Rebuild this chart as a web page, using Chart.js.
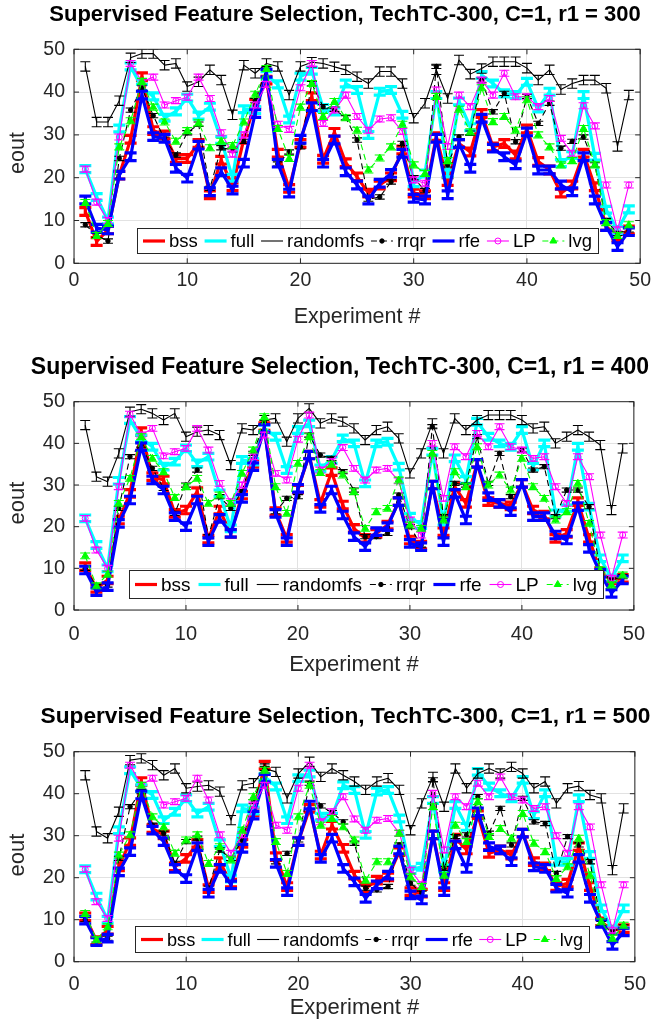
<!DOCTYPE html>
<html>
<head>
<meta charset="utf-8">
<script src="https://cdn.jsdelivr.net/npm/chart.js@4.4.1/dist/chart.umd.min.js"></script>
<style>
  body { margin: 0; background: #fff; }
  #wrap { position: relative; width: 657px; height: 1025px; overflow: hidden; }
  canvas { position: absolute; left: 0; }
</style>
</head>
<body>
<div id="wrap">
  <canvas id="c300" width="657" height="345" style="top:0px"></canvas>
  <canvas id="c400" width="657" height="345" style="top:345px"></canvas>
  <canvas id="c500" width="657" height="335" style="top:690px"></canvas>
</div>
<script>
// Experiment numbers on the x axis
const EXPERIMENTS = [1,2,3,4,5,6,7,8,9,10,11,12,13,14,15,16,17,18,19,20,21,22,23,24,25,
  26,27,28,29,30,31,32,33,34,35,36,37,38,39,40,41,42,43,44,45,46,47,48,49];
const X_TICKS = [0, 10, 20, 30, 40, 50];
const Y_TICKS = [0, 10, 20, 30, 40, 50];
const SERIES_NAMES = ['bss', 'full', 'randomfs', 'rrqr', 'rfe', 'LP', 'lvg'];
const R1_VALUES = [300, 400, 500];

// r1 = 300
const bss300  = [12.1,5.1,7.8,20.6,29,43.6,31,30,24.5,24.5,28,16,24.1,17.9,29,37.4,42.8,25.7,17.5,28,38.9,24.3,30.6,23.5,20.2,16.4,18.3,20.2,26.5,16.4,16,29.6,19.1,28,26,35,27.2,28,25.3,31.4,23.8,21.8,16.4,18.3,25.7,17.9,8.6,6.2,7.8];
const full300 = [22,15.5,10,31.5,46,41,39,34,35.5,38.7,34.5,36.6,28.8,20,36,35.8,44,41.8,33.6,43.6,45,36.3,35.5,42,40.5,30,40.1,40.5,34.7,18.7,21,39.3,21,37.8,31.8,44,42,39.7,39.3,42.4,36.2,40.1,23.4,25.3,39.3,24.9,12.5,7.8,12.6];
const rand300 = [46,33,33,38,48,49,49,46.3,46.7,41.3,42.4,45.2,42.8,34.7,46.3,44.4,46.7,46,39.3,46,47,46.7,45.9,45.2,43.6,42,44.8,44.8,42,33.9,37.4,45.2,38.5,47.5,44.2,45.5,47.1,47.1,47.1,45.6,42.8,45.2,40.6,42,42.8,42.8,40.9,27.3,39.3];
const rrqr300 = [9,6.5,5.2,24.5,35.8,41,34.5,29,25.3,30.5,32.5,17.5,27,26.5,28.5,38,45.5,23.2,26,27.2,42,36.6,36,34,28.8,15,15.5,19,28,20,17,46,23,29.5,30.4,42.8,35.4,39.7,28.4,39,32.7,37.4,26.9,28.5,29.5,23,10,7,7.8];
const rfe300  = [14.8,8.2,7.8,20.6,24.9,39.3,29.6,29.2,22.2,19.9,27.6,16.7,21.4,17.1,23.4,35,44.4,23.4,16.4,29,36.6,23.4,28.8,21.4,18.3,14.8,18.7,21,25.7,15.2,14.8,29.2,16,28,22.2,33.9,26.9,24.9,23,30.7,21.8,21.8,18.3,16.7,24.9,14.8,8.6,3.9,7.4];
const lp300   = [22,14.3,10,29.5,46.7,42.4,43.5,37,38,38.8,43.5,38.5,30.5,25.5,30,37,41.8,32.5,31.3,41,46.7,32.7,35.8,39.3,34.3,31.1,33.7,34,30.8,19.5,18.7,40.5,27.3,39.3,36.6,42.8,39.3,44.4,38.9,38.9,36.6,38.5,29.2,25.7,36.8,32.1,18.3,7.8,18.3];
const lvg300  = [14.2,6.5,9.3,27.2,33.3,42.5,36.5,33,28.5,31,32.8,27,28.5,27.5,33,39.5,45.5,31.5,24.5,36.5,42,34.3,37.8,34,31.1,21.8,24.6,27.2,32.5,23,21,39,24,36,30.7,41,33.1,34.3,31.1,38.2,30,27.2,23,24,31.5,23,9.5,6.5,9];

// r1 = 400
const bss400  = [10.4,5.2,7.2,21.6,28,42.8,32,31.2,23.2,24,28.4,17,24,18.4,27.6,35.2,44,23.6,17.2,29,37.2,25.6,33.2,25.2,19.6,17.2,18.4,20.4,26,16.8,15.6,30,18.8,29.6,25.6,35.2,26,25.6,25,30.4,24,22.8,17.2,18.4,26,17.2,9.2,7.2,7.6];
const full400 = [22,15.6,10,31,45.6,41.2,39.2,34.4,35.6,38.8,35.2,36.8,28,19.6,36,35.6,43.6,41.6,33.6,43.2,44.8,34,36,41.2,40,30.4,40,40.4,34.4,22.4,20.4,38,21.2,36.4,31.2,45.2,41.6,40,39.2,43.2,34.4,40,23.2,24.4,39.2,24.8,12.4,7.6,12.4];
const rand400 = [44.4,32,30.8,37.6,47.6,48.2,47.2,45.6,47.2,41.6,42.8,43.2,42,34.8,43.6,43.2,45.6,46,40.4,46,48.4,44.8,46,45.2,43.6,40.8,43.2,44,41.2,32.8,37.6,44.8,37.6,46,43.2,45.6,46.8,46.8,46.8,45.6,43.6,44,40,41.6,43.2,41.6,39.6,24,38.8];
const rrqr400 = [10,5.6,6,24.4,36.8,39.6,34,29.2,23.2,30,33.6,17.6,27.2,24.4,28.4,37.6,45,23.6,26.8,27.2,42,37.2,36.4,33.2,28.8,17.6,17.6,18.4,27.6,20,15.6,44,22.4,30.4,30,41.6,30.4,37.6,27.2,38.4,33.6,34.4,22.4,28.8,28.8,24.8,9.6,7.2,8];
const rfe400  = [9.6,4.4,5.6,20.8,26.4,39.2,31.2,28.8,22.4,20,26.4,16.4,22,18.4,26.8,34.4,43.6,23.2,16.4,29.2,37.2,24.4,28.8,22.8,17.6,15.2,18.8,20,26,16,15.2,30,16.4,28,21.6,35.2,27.2,25.6,23.6,30.4,22.4,22.4,18,16.8,24.8,14.8,8.8,4,7.2];
const lp400   = [22,14.4,10,29.6,47,42,43.6,37,38,38.8,43.6,38.4,30.4,26,30,36.8,42,32.8,31.2,41,46.8,33.6,35.6,39,34,31.2,33.6,34,31,21.6,18,40,26.8,39.2,36.8,42.4,39.2,44,39.2,38.4,36.4,36.8,29.6,25.6,36.8,32,18,7.6,18];
const lvg400  = [13,5.8,8.6,25.6,31.6,41.6,36.4,33.2,27,29.6,31.6,25.6,27.6,25.6,32.8,38.4,46.4,29.6,23.2,35.2,41.6,33,35,32.4,28.4,19.6,23.6,24.4,31.2,20.4,19.6,37.6,21.6,33.2,29.6,39.2,30,32.4,28.8,36.4,29.6,26.8,21.6,23.6,30.4,20.8,9.6,6,8.4];

// r1 = 500
const bss500  = [10.7,5,7.5,22.6,28.6,42.9,31.7,30.2,22.6,24.6,28.2,17.4,23.8,18.7,28.2,35.7,46.8,25,17.9,28.6,36.5,25.4,32.5,27,20.6,17.5,19.4,20.2,26.2,16.7,16.3,30.2,17.9,29.4,26.6,35,25.8,26.6,25.4,30.6,23.8,22.6,17.9,18.7,27.4,17.9,9.5,7.5,7.9];
const full500 = [22,15.5,10,31.3,45.6,41.3,39.7,33.7,35.7,38.9,35.3,36.9,28.2,19.8,36.5,36,44,41.7,33.7,43.7,44.8,34.5,34.5,42,40.9,30.2,40.5,40.9,34.1,21.8,22.6,38.5,22.2,37.3,32.1,45.2,41.7,40.1,38.9,43.3,34.9,40.1,23.8,23.8,38.9,25.4,12.7,7.5,12.7];
const rand500 = [44.4,31,29.4,35.7,48,48.4,46.8,44.4,46,41.3,41.7,42,40.5,33.7,42,42.5,46,45.2,38.9,44.8,47.6,44,46,44.4,42.9,40.9,42.9,43.7,40.9,31.3,37.7,44,36.9,46,41.3,44.8,46,44.8,46.4,44.8,41.3,42.9,37.7,41.3,41.8,39.7,38.9,21.8,36.5];
const rrqr500 = [10,5.2,5.6,24.6,36.9,40.5,32.5,30.6,23.4,28.6,29.4,17.5,26.6,24.6,29,38.1,46,23.8,25.8,29,42.5,37.1,35.5,33.3,28.2,17.5,17.1,17.9,27.8,18.7,16.3,43.3,22.2,29.8,30.2,39.3,30.6,36.5,27.8,38.9,33.3,32.9,21,29.8,27.8,23.8,9.1,7.1,8.3];
const rfe500  = [9.9,4.8,5.6,21.4,26.2,39.7,31.3,28.6,22.2,19.8,27.4,16.3,22.2,18.3,27,34.9,43.7,23.4,16.7,28.6,37.3,24.6,29.4,22.2,19,15.1,18.3,20.6,26.6,15.9,14.7,30.2,16.7,27.8,22.2,35.7,27.4,26.6,23.8,30.6,22.6,22.2,17.5,16.3,24.6,15.1,9.1,3.9,7.1];
const lp500   = [22,14.3,10.3,29.4,46.8,42,43.7,37.3,38.1,38.9,43.7,38.5,30.2,25.8,30.2,37.3,42,32.5,31.3,41.3,46.8,33.3,35.7,39.3,34,31.3,33.7,34.1,30.6,21.8,18.3,40.1,26.6,39.3,36.9,42.5,39.3,44,39.3,38.5,36.5,36.9,30,25.8,36.9,32.1,18.3,7.5,18.3];
const lvg500  = [11.5,5.2,8.3,25.4,30.2,42,34.5,32.1,25.8,29,30.2,23.4,27.4,24.2,31.3,39.3,45.6,28.6,21,34.5,42,32.5,34.1,32.1,29,19.4,23.8,23.8,30.6,20.2,17.9,36.9,20.6,32.5,28.6,38.1,29.8,31.7,29.4,35.3,28.2,26.2,19.8,22.6,29.4,20.6,9.5,5.6,8.7];

// half length of the error bars, one per series
const ERR_HALF = [0.9, 0.8, 1.1, 0.5, 0.9, 0.7, 0.7];

const PANEL_SERIES = [
  [bss300, full300, rand300, rrqr300, rfe300, lp300, lvg300],
  [bss400, full400, rand400, rrqr400, rfe400, lp400, lvg400],
  [bss500, full500, rand500, rrqr500, rfe500, lp500, lvg500]
];

PANEL_SERIES.forEach(p => p.forEach(s => {
  if (s.length !== EXPERIMENTS.length) throw new Error('bad length ' + s.length);
}));

const FONT = '"Liberation Sans", Arial, Helvetica, sans-serif';
const AXIS = '#262626';

// line styles (MATLAB look)
const STYLES = [
  { color: '#ff0000', width: 3.2, dash: [], point: false, radius: 0, cap: 6 },
  { color: '#00ffff', width: 3.2, dash: [], point: false, radius: 0, cap: 6 },
  { color: '#000000', width: 1.1, dash: [], point: false, radius: 0, cap: 5 },
  { color: '#000000', width: 1.1, dash: [6, 4], point: 'circle', radius: 2.2, fill: '#000000', cap: 5 },
  { color: '#0000ff', width: 3.2, dash: [], point: false, radius: 0, cap: 6 },
  { color: '#ff00ff', width: 1.1, dash: [], point: 'circle', radius: 3, fill: 'rgba(0,0,0,0)', cap: 5 },
  { color: '#00ff00', width: 1.1, dash: [6, 4], point: 'triangle', radius: 4, fill: '#00ff00', cap: 5 }
];

const LAYOUT = [
  { h: 345, top: 49.3, bottom: 263.3, titleX: 345, titleY: 15, titlePx: 22, tickPx: 19.5, xPad: 6,
    labelPx: 21.5, xLabelY: 317, yLabelX: 18, yLabelY: 153,
    legend: { x: 137, y: 228, w: 461, h: 25 }, legendPx: 18.5 },
  { h: 345, top: 56.7, bottom: 265, titleX: 340, titleY: 23, titlePx: 23, tickPx: 20, xPad: 12,
    labelPx: 22, xLabelY: 320, yLabelX: 18, yLabelY: 158,
    legend: { x: 129, y: 225, w: 474, h: 28 }, legendPx: 19 },
  { h: 335, top: 61.7, bottom: 271.7, titleX: 345.5, titleY: 27, titlePx: 22.7, tickPx: 20, xPad: 11,
    labelPx: 22, xLabelY: 318, yLabelX: 18, yLabelY: 165,
    legend: { x: 135, y: 236, w: 454, h: 26 }, legendPx: 18.2 }
];

function drawMarker(ctx, st, x, y) {
  if (!st.point) return;
  ctx.save();
  ctx.setLineDash([]);
  ctx.lineWidth = 1;
  ctx.strokeStyle = st.color;
  ctx.fillStyle = st.fill;
  ctx.beginPath();
  if (st.point === 'circle') {
    ctx.arc(x, y, st.radius, 0, Math.PI * 2);
  } else {
    const r = st.radius;
    ctx.moveTo(x, y - r);
    ctx.lineTo(x + r * 0.866, y + r * 0.5);
    ctx.lineTo(x - r * 0.866, y + r * 0.5);
    ctx.closePath();
  }
  ctx.fill();
  ctx.stroke();
  ctx.restore();
}

const overlay = {
  id: 'overlay',
  afterDatasetDraw(chart, args) {
    const ds = chart.data.datasets[args.index];
    const a = chart.chartArea;
    const y = chart.scales.y;
    const ctx = chart.ctx;
    const c = ds.capHalf;
    ctx.save();
    ctx.beginPath();
    ctx.rect(a.left, a.top, a.right - a.left, a.bottom - a.top);
    ctx.clip();
    ctx.strokeStyle = ds.borderColor;
    ctx.lineWidth = ds.borderWidth;
    ctx.setLineDash([]);
    args.meta.data.forEach((pt, i) => {
      const v = ds.data[i].y;
      const y1 = y.getPixelForValue(v - ds.errHalf);
      const y2 = y.getPixelForValue(v + ds.errHalf);
      ctx.beginPath();
      ctx.moveTo(pt.x, y1); ctx.lineTo(pt.x, y2);
      ctx.moveTo(pt.x - c, y1); ctx.lineTo(pt.x + c, y1);
      ctx.moveTo(pt.x - c, y2); ctx.lineTo(pt.x + c, y2);
      ctx.stroke();
    });
    ctx.restore();
  },
  afterDraw(chart, args, opts) {
    const L = opts.layout;
    const ctx = chart.ctx;
    const a = chart.chartArea;
    const sx = chart.scales.x, sy = chart.scales.y;
    ctx.save();
    // axes box and inward ticks
    ctx.strokeStyle = AXIS;
    ctx.lineWidth = 1;
    ctx.strokeRect(a.left, a.top, a.right - a.left, a.bottom - a.top);
    ctx.beginPath();
    X_TICKS.forEach(t => {
      const px = sx.getPixelForValue(t);
      ctx.moveTo(px, a.bottom); ctx.lineTo(px, a.bottom - 5);
      ctx.moveTo(px, a.top); ctx.lineTo(px, a.top + 5);
    });
    Y_TICKS.forEach(t => {
      const py = sy.getPixelForValue(t);
      ctx.moveTo(a.left, py); ctx.lineTo(a.left + 5, py);
      ctx.moveTo(a.right, py); ctx.lineTo(a.right - 5, py);
    });
    ctx.stroke();

    // title and axis labels
    ctx.fillStyle = '#000';
    ctx.textAlign = 'center';
    ctx.textBaseline = 'middle';
    ctx.font = 'bold ' + L.titlePx + 'px ' + FONT;
    ctx.fillText(opts.title, L.titleX, L.titleY);
    ctx.fillStyle = AXIS;
    ctx.font = L.labelPx + 'px ' + FONT;
    ctx.fillText('Experiment #', (a.left + a.right) / 2, L.xLabelY);
    ctx.save();
    ctx.translate(L.yLabelX, L.yLabelY);
    ctx.rotate(-Math.PI / 2);
    ctx.fillText('eout', 0, 0);
    ctx.restore();

    // legend
    const g = L.legend;
    ctx.font = L.legendPx + 'px ' + FONT;
    const sample = 22, gap = 4, pad = 6;
    const widths = SERIES_NAMES.map(s => ctx.measureText(s).width);
    const used = widths.reduce((p, q) => p + q, 0) + SERIES_NAMES.length * (sample + gap);
    const space = (g.w - 2 * pad - used) / (SERIES_NAMES.length - 1);
    ctx.fillStyle = '#fff';
    ctx.fillRect(g.x, g.y, g.w, g.h);
    ctx.strokeStyle = AXIS;
    ctx.lineWidth = 1;
    ctx.strokeRect(g.x + 0.5, g.y + 0.5, g.w, g.h);
    let x = g.x + pad;
    const cy = g.y + g.h / 2 + 0.5;
    SERIES_NAMES.forEach((name, i) => {
      const st = STYLES[i];
      ctx.strokeStyle = st.color;
      ctx.lineWidth = st.width;
      ctx.setLineDash(st.dash);
      ctx.beginPath();
      ctx.moveTo(x, cy); ctx.lineTo(x + sample, cy);
      ctx.stroke();
      ctx.setLineDash([]);
      drawMarker(ctx, st, x + sample / 2, cy);
      ctx.fillStyle = '#000';
      ctx.textAlign = 'left';
      ctx.fillText(name, x + sample + gap, cy + 1);
      x += sample + gap + widths[i] + space;
    });
    ctx.restore();
  }
};

function makeChart(id, idx) {
  const L = LAYOUT[idx];
  const series = PANEL_SERIES[idx];
  const datasets = series.map((vals, i) => {
    const st = STYLES[i];
    return {
      label: SERIES_NAMES[i],
      data: EXPERIMENTS.map((x, k) => ({ x: x, y: vals[k] })),
      borderColor: st.color,
      borderWidth: st.width,
      borderDash: st.dash,
      borderJoinStyle: 'round',
      pointStyle: st.point || 'circle',
      pointRadius: st.radius,
      pointHoverRadius: st.radius,
      pointBorderWidth: 1,
      pointBorderColor: st.color,
      pointBackgroundColor: st.fill || st.color,
      tension: 0,
      fill: false,
      order: series.length - i,
      errHalf: ERR_HALF[i],
      capHalf: st.cap
    };
  });

  return new Chart(document.getElementById(id), {
    type: 'line',
    data: { datasets: datasets },
    options: {
      responsive: false,
      animation: false,
      devicePixelRatio: 1,
      events: [],
      layout: { autoPadding: false, padding: { left: 0, right: 8, top: L.top, bottom: 0 } },
      scales: {
        x: {
          type: 'linear', min: 0, max: 50,
          afterFit: s => { s.height = L.h - L.bottom; },
          afterBuildTicks: s => { s.ticks = X_TICKS.map(v => ({ value: v })); },
          ticks: { autoSkip: false, maxRotation: 0, padding: L.xPad, color: AXIS,
                   font: { family: FONT, size: L.tickPx } },
          grid: { color: '#e2e2e2', drawTicks: false },
          border: { display: false }
        },
        y: {
          min: 0, max: 50,
          afterFit: s => { s.width = 74; },
          afterBuildTicks: s => { s.ticks = Y_TICKS.map(v => ({ value: v })); },
          ticks: { padding: 9, color: AXIS, font: { family: FONT, size: L.tickPx } },
          grid: { color: '#e2e2e2', drawTicks: false },
          border: { display: false }
        }
      },
      plugins: {
        legend: { display: false },
        tooltip: { enabled: false },
        overlay: {
          layout: L,
          title: 'Supervised Feature Selection, TechTC-300, C=1, r1 = ' + R1_VALUES[idx]
        }
      }
    },
    plugins: [overlay]
  });
}

makeChart('c300', 0);
makeChart('c400', 1);
makeChart('c500', 2);
</script>
</body>
</html>
